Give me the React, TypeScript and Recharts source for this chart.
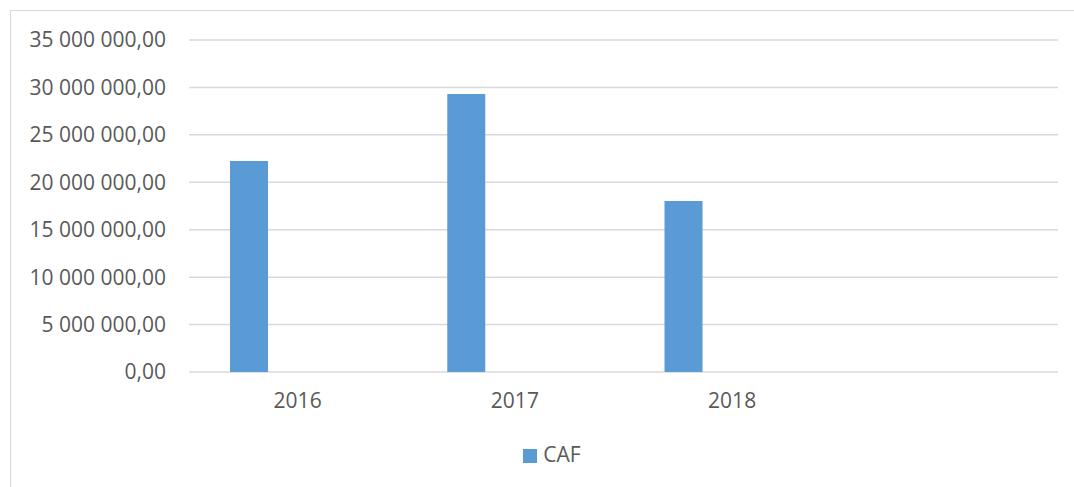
import { Bar, BarChart, CartesianGrid, Legend, XAxis, YAxis } from "recharts";

// Données.
const YEARS = ["2016", "2017", "2018", ""];
const CAF = [22250000, 29300000, 18030000, null];
const Y_TICKS = [0, 5000000, 10000000, 15000000, 20000000, 25000000, 30000000, 35000000];

const FONT = "'Open Sans', sans-serif";
const TEXT = "#595959";
const GRID = "#d9d9d9";
const BLUE = "#5b9bd5";

const rows = YEARS.map((year, i) => ({ year, caf: CAF[i], vide: null }));

// 35000000 -> "35 000 000,00"
function money(v: number): string {
  const int = Math.round(v).toString().replace(/\B(?=(\d{3})+(?!\d))/g, " ");
  return `${int},00`;
}

const TICK = { fill: TEXT, fontSize: 21, fontFamily: FONT } as const;

export default function App() {
  return (
    <div style={{ position: "absolute", left: 0, top: 0, width: 1074, height: 487, background: "#fff" }}>
      <div
        style={{
          position: "absolute",
          left: 10,
          top: 10,
          width: 1100,
          height: 500,
          borderTop: `1.5px solid ${GRID}`,
          borderLeft: `1.5px solid ${GRID}`,
        }}
      />
      <BarChart
        width={1074}
        height={487}
        data={rows}
        margin={{ top: 40, right: 16, bottom: 55, left: 0 }}
        barGap={59}
        style={{ position: "absolute", left: 0, top: 0 }}
      >
        <CartesianGrid stroke={GRID} strokeWidth={1.5} vertical={false} />
        <XAxis
          dataKey="year"
          height={60}
          axisLine={false}
          tickLine={false}
          tickSize={0}
          tickMargin={21}
          tick={TICK}
        />
        <YAxis
          width={189}
          domain={[0, 35000000]}
          ticks={Y_TICKS}
          tickFormatter={money}
          axisLine={false}
          tickLine={false}
          tickSize={0}
          tickMargin={23}
          tick={TICK}
        />
        <Legend
          layout="horizontal"
          verticalAlign="middle"
          align="center"
          iconType="square"
          iconSize={14}
          wrapperStyle={{ top: 440, left: 20, width: 1074, fontFamily: FONT, fontSize: 21 }}
          formatter={(value) => <span style={{ color: TEXT, marginLeft: 2 }}>{value}</span>}
        />
        <Bar dataKey="caf" name="CAF" fill={BLUE} barSize={38} isAnimationActive={false} />
        <Bar dataKey="vide" name="vide" fill={BLUE} barSize={38} legendType="none" isAnimationActive={false} />
      </BarChart>
    </div>
  );
}
